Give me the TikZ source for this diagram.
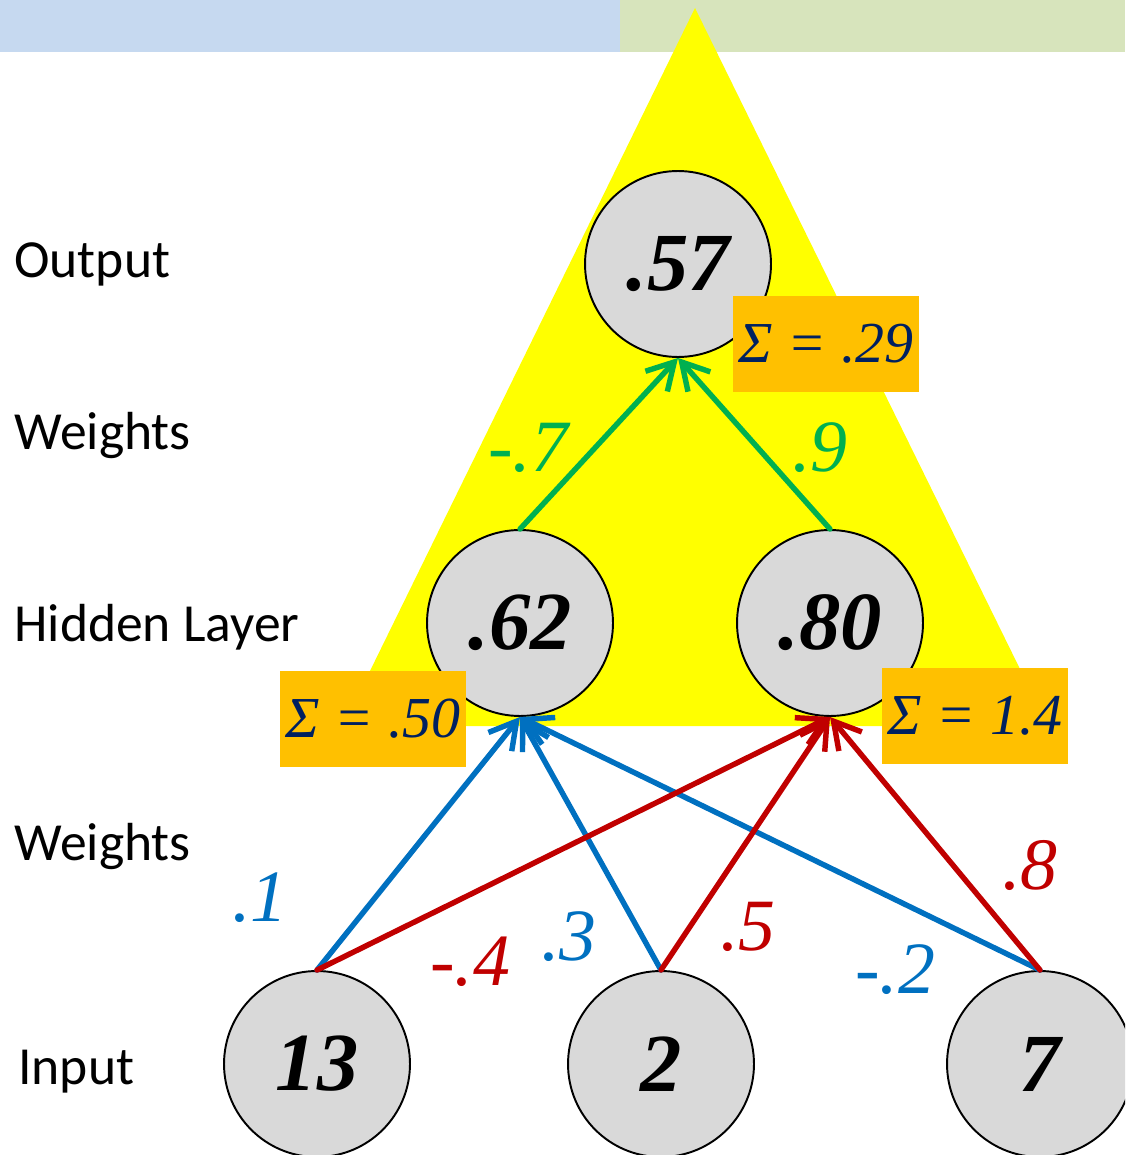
\documentclass[tikz,border=0pt]{standalone}
\usepackage{fontspec}
\setmainfont{Liberation Serif}
\newfontfamily\labfont{Carlito}
\usetikzlibrary{arrows.meta}
\definecolor{barblue}{HTML}{C6D9F0}
\definecolor{bargreen}{HTML}{D7E4BC}
\definecolor{triyellow}{HTML}{FFFF00}
\definecolor{nodegray}{HTML}{D9D9D9}
\definecolor{boxorange}{HTML}{FFC000}
\definecolor{navy}{HTML}{002060}
\definecolor{wblue}{HTML}{0070C0}
\definecolor{wred}{HTML}{C00000}
\definecolor{wgreen}{HTML}{00B050}
\tikzset{
  neuron/.style={circle, draw=black, line width=1.1pt, fill=nodegray, minimum size=3.72cm, inner sep=0pt,
    font=\fontsize{47}{47}\selectfont\bfseries\itshape},
  sumbox/.style={fill=boxorange, minimum width=3.72cm, minimum height=1.92cm, inner sep=0pt,
    text=navy, font=\fontsize{33}{33}\selectfont\itshape},
  conn/.style={line width=3.1pt, line cap=round, -{Straight Barb[length=15pt,width=17pt]}},
  wlabel/.style={font=\fontsize{42}{42}\selectfont\itshape, inner sep=0pt},
  sidelabel/.style={anchor=base west, inner sep=0pt, font=\labfont\fontsize{30.5}{30.5}\selectfont}
}
\begin{document}
\begin{tikzpicture}[x=0.02cm,y=-0.02cm]
\useasboundingbox (0,0) rectangle (1125,1155);
\clip (0,0) rectangle (1125,1155);
% top bars
\fill[barblue] (0,0) rectangle (620,52);
\fill[bargreen] (620,0) rectangle (1125,52);
% yellow triangle
\fill[triyellow] (695,8) -- (1048,726) -- (343,726) -- cycle;
% side labels
\node[sidelabel] (lout) at (14,277) {Output};
\node[sidelabel] (lw1) at (14,449) {Weights};
\node[sidelabel] (lhid) at (14,641) {Hidden Layer};
\node[sidelabel] (lw2) at (14,860) {Weights};
\node[sidelabel] (lin) at (18,1084) {Input};
% neurons
\node[neuron] (o) at (678,264) {.57};
\node[neuron] (h1) at (520,623) {.62};
\node[neuron] (h2) at (830,623) {.80};
\node[neuron] (i1) at (317,1064) {13};
\node[neuron] (i2) at (661,1064) {2};
\node[neuron] (i3) at (1040,1064) {7};
% connectors
\draw[conn, wblue] (i1.north) -- (h1.south);
\draw[conn, wblue] (i2.north) -- (h1.south);
\draw[conn, wblue] (i3.north) -- (h1.south);
\draw[conn, wred] (i1.north) -- (h2.south);
\draw[conn, wred] (i2.north) -- (h2.south);
\draw[conn, wred] (i3.north) -- (h2.south);
\draw[conn, wgreen] (h1.north) -- (o.south);
\draw[conn, wgreen] (h2.north) -- (o.south);
% sum boxes
\node[sumbox] (s1) at (826,344) {Σ = .29};
\node[sumbox] (s2) at (373,719) {Σ = .50};
\node[sumbox] (s3) at (975,716) {Σ = 1.4};
% weight labels
\node[wlabel, text=wblue] (w1) at (260,898) {.1};
\node[wlabel, text=wred] (w2) at (470,962) {-.4};
\node[wlabel, text=wblue] (w3) at (569,937) {.3};
\node[wlabel, text=wred] (w4) at (748,927) {.5};
\node[wlabel, text=wblue] (w5) at (895,970) {-.2};
\node[wlabel, text=wred] (w6) at (1030,865) {.8};
\node[wlabel, text=wgreen] (w7) at (528,448) {-.7};
\node[wlabel, text=wgreen] (w8) at (820,448) {.9};
\end{tikzpicture}
\end{document}
